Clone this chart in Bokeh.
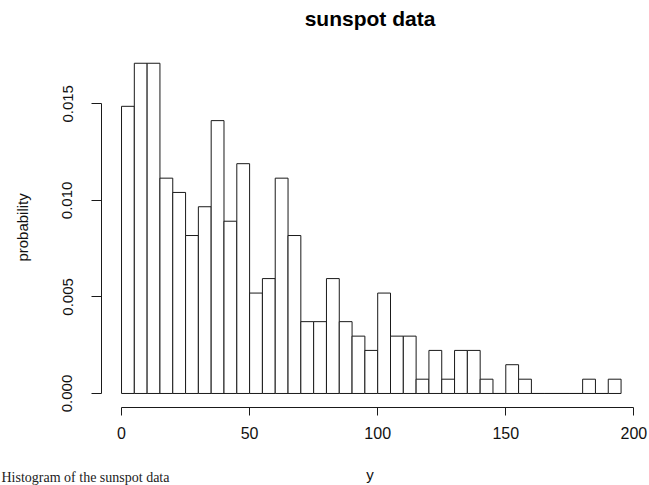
import math
from bokeh.plotting import figure
from bokeh.models import (ColumnDataSource, FixedTicker, Range1d, Label,
                          PrintfTickFormatter)
from bokeh.embed import file_html
from bokeh.resources import INLINE

# ---- data (histogram of sunspot data, bin width 5, density scale) ----
bin_left = [0, 5, 10, 15, 20, 25, 30, 35, 40, 45, 50, 55, 60, 65, 70, 75, 80,
            85, 90, 95, 100, 105, 110, 115, 120, 125, 130, 135, 140, 145, 150,
            155, 160, 165, 170, 175, 180, 185, 190]
bin_right = [5, 10, 15, 20, 25, 30, 35, 40, 45, 50, 55, 60, 65, 70, 75, 80, 85,
             90, 95, 100, 105, 110, 115, 120, 125, 130, 135, 140, 145, 150,
             155, 160, 165, 170, 175, 180, 185, 190, 195]
probability = [0.01487, 0.01710, 0.01710, 0.01115, 0.01041, 0.00818, 0.00967,
               0.01413, 0.00892, 0.01190, 0.00520, 0.00595, 0.01115, 0.00818,
               0.00372, 0.00372, 0.00595, 0.00372, 0.00297, 0.00223, 0.00520,
               0.00297, 0.00297, 0.00074, 0.00223, 0.00074, 0.00223, 0.00223,
               0.00074, 0.0, 0.00149, 0.00074, 0.0, 0.0, 0.0, 0.0, 0.00074,
               0.0, 0.00074]
x_ticks = [0, 50, 100, 150, 200]
y_ticks = [0.0, 0.005, 0.010, 0.015]
title_text = "sunspot data"
x_label = "y"
y_label = "probability"
caption_text = "Histogram of the sunspot data"

src = ColumnDataSource(dict(left=bin_left, right=bin_right,
                            top=probability, bottom=[0.0] * len(bin_left)))

W, H = 649, 485
# frame fills the whole canvas; R-style detached axes sit at fixed locations
p = figure(width=W, height=H, output_backend="svg", toolbar_location=None,
           x_range=Range1d(-47.24, 206.1), y_range=Range1d(-0.004765, 0.02035),
           min_border_left=0, min_border_right=0, min_border_top=0,
           min_border_bottom=0)
p.outline_line_color = None
p.grid.visible = False
p.background_fill_color = "white"
p.border_fill_color = "white"

p.quad(left="left", right="right", top="top", bottom="bottom", source=src,
       fill_color="white", line_color="#1a1a1a", line_width=1)

FONT = "Liberation Sans"

xa = p.xaxis[0]
xa.fixed_location = -0.00071
xa.bounds = (0, 200)
xa.ticker = FixedTicker(ticks=x_ticks)
xa.minor_tick_line_color = None
xa.major_tick_in = 0
xa.major_tick_out = 8
xa.axis_line_color = "#1a1a1a"
xa.major_tick_line_color = "#1a1a1a"
xa.major_label_text_font = FONT
xa.major_label_text_font_size = "16px"
xa.major_label_text_color = "#111111"
xa.major_label_standoff = 12

ya = p.yaxis[0]
ya.fixed_location = -7.81
ya.bounds = (0, 0.015)
ya.ticker = FixedTicker(ticks=y_ticks)
ya.formatter = PrintfTickFormatter(format="%.3f")
ya.minor_tick_line_color = None
ya.major_tick_in = 0
ya.major_tick_out = 10
ya.axis_line_color = "#1a1a1a"
ya.major_tick_line_color = "#1a1a1a"
ya.major_label_orientation = "vertical"
ya.major_label_text_font = FONT
ya.major_label_text_font_size = "15px"
ya.major_label_text_color = "#111111"
ya.major_label_standoff = 19

# axis titles centred on the plot region (as R does)
p.add_layout(Label(x=97.0, y=-0.00422, text=x_label, text_align="center",
                   text_baseline="alphabetic", text_font=FONT,
                   text_font_size="15px", text_color="#111111"))
p.add_layout(Label(x=-38.65, y=0.0086, text=y_label, angle=math.pi / 2,
                   text_align="center", text_baseline="middle",
                   text_font=FONT, text_font_size="15px",
                   text_color="#111111"))

title = Label(x=97.0, y=0.01941, text=title_text, text_align="center",
              text_baseline="alphabetic", text_font=FONT,
              text_font_style="bold", text_font_size="21px",
              text_color="#000000")
p.add_layout(title)

caption = Label(x=1, y=1, x_units="screen", y_units="screen", level="overlay",
                text=caption_text, text_align="left", text_baseline="bottom",
                text_font="Liberation Serif", text_font_size="14px",
                text_color="#222222")
p.add_layout(caption)

open("out.html", "w").write(file_html(p, INLINE))
